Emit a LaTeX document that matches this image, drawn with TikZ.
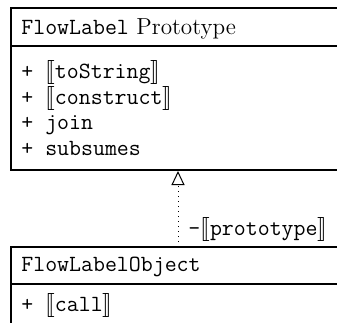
\documentclass[tikz,border=0pt]{standalone}
\usepackage{fontspec}
\usepackage{stmaryrd}
\usetikzlibrary{arrows.meta}
\begin{document}
\begin{tikzpicture}[x=0.5pt,y=-0.5pt,
  font=\fontsize{11.6}{14}\selectfont,
  box/.style={draw, line width=0.55pt},
  lbl/.style={anchor=base west, inner sep=0pt},
  realize/.style={dotted, line width=0.5pt, -{Triangle[open, length=7pt, width=6.5pt, line width=0.5pt]}}]
\useasboundingbox (0,0) rectangle (337,322);
\clip (0,0) rectangle (337,322);
% Prototype box
\draw[box] (345,8) -- (11,8) -- (11,170) -- (345,170);
\draw[box] (11,46) -- (345,46);
\node[lbl] (ptitle) at (21,34) {\texttt{FlowLabel} Prototype};
\node[lbl] (m1) at (21,78) {\ttfamily + $\llbracket$toString$\rrbracket$};
\node[lbl] (m2) at (21,104) {\ttfamily + $\llbracket$construct$\rrbracket$};
\node[lbl] (m3) at (21,129) {\ttfamily + join};
\node[lbl] (m4) at (21,155) {\ttfamily + subsumes};
% Object box
\draw[box] (345,247) -- (11,247) -- (11,330);
\draw[box] (11,284) -- (345,284);
\node[lbl] (otitle) at (21,271) {\ttfamily FlowLabelObject};
\node[lbl] (o1) at (21,311) {\ttfamily + $\llbracket$call$\rrbracket$};
% connector
\coordinate (objtop) at (178,247);
\coordinate (protobot) at (178,171);
\draw[realize] (objtop) -- (protobot);
\node[lbl] (plabel) at (188,235) {\ttfamily -$\llbracket$prototype$\rrbracket$};
\end{tikzpicture}
\end{document}
